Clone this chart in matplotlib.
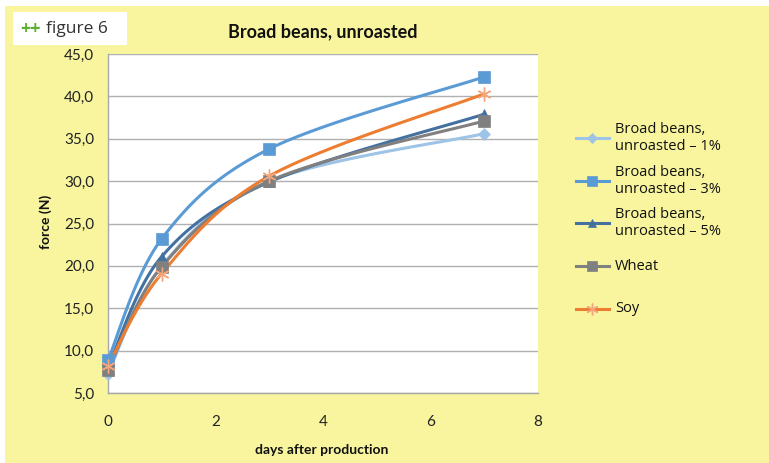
import numpy as np
import matplotlib
matplotlib.use("Agg")
import matplotlib.pyplot as plt
from matplotlib.patches import Rectangle
from matplotlib.lines import Line2D

# --- data -------------------------------------------------------------
days = [0, 1, 3, 7]
bb_1 = [7.3, 20.0, 30.0, 35.6]
bb_3 = [8.9, 23.2, 33.8, 42.3]
bb_5 = [8.0, 21.1, 29.9, 37.9]
wheat = [7.7, 19.9, 30.0, 37.1]
soy = [8.2, 19.1, 30.6, 40.3]

series_labels = ["Broad beans,\nunroasted – 1%", "Broad beans,\nunroasted – 3%",
                 "Broad beans,\nunroasted – 5%", "Wheat", "Soy"]
yticks = [5, 10, 15, 20, 25, 30, 35, 40, 45]
xticks = [0, 2, 4, 6, 8]

plt.rcParams["font.family"] = ["Lato", "DejaVu Sans"]

YELLOW = "#F8F59E"

def smooth(x, y, n=40):
    """Bezier smoothing through the points (Catmull-Rom style)."""
    p = np.column_stack([x, y]).astype(float)
    m = len(p)
    out = []
    for i in range(m - 1):
        p0 = p[i - 1] if i > 0 else p[i]
        p1, p2 = p[i], p[i + 1]
        p3 = p[i + 2] if i + 2 < m else p[i + 1]
        c1 = p1 + (p2 - p0) / 6.0
        c2 = p2 - (p3 - p1) / 6.0
        t = np.linspace(0, 1, n)[:, None]
        seg = ((1 - t) ** 3) * p1 + 3 * ((1 - t) ** 2) * t * c1 + 3 * (1 - t) * t ** 2 * c2 + t ** 3 * p2
        out.append(seg if i == 0 else seg[1:])
    s = np.vstack(out)
    return s[:, 0], s[:, 1]

fig = plt.figure(figsize=(7.69, 4.63), dpi=100)
fig.patch.set_facecolor("white")
# yellow panel behind everything
fig.patches.append(Rectangle((5 / 769, 0), 1, 1 - 6 / 463, transform=fig.transFigure,
                             facecolor=YELLOW, edgecolor="none", zorder=-10))
# label box
fig.patches.append(Rectangle((13 / 769, 1 - 45 / 463), 114 / 769, 33 / 463,
                             transform=fig.transFigure, facecolor="white",
                             edgecolor="none", zorder=-9))
fig.text(20 / 769, 1 - 29 / 463, "++", color="#5DB133", fontsize=13,
         fontweight="bold", va="center", ha="left", family="Open Sans")
fig.text(46 / 769, 1 - 29 / 463, "figure 6", color="#333333", fontsize=12.5,
         va="center", ha="left", family="Open Sans")

ax = fig.add_axes([108 / 769, 1 - 393 / 463, 430 / 769, 339 / 463])
ax.set_facecolor("white")

styles = [
    dict(color="#9DC3E6", marker="D", ms=6.5, mfc="#9DC3E6", mec="#9DC3E6"),
    dict(color="#5B9BD5", marker="s", ms=8, mfc="#5B9BD5", mec="#5B9BD5"),
    dict(color="#44719F", marker="^", ms=7.5, mfc="#44719F", mec="#44719F"),
    dict(color="#808080", marker="s", ms=8, mfc="#808080", mec="#808080"),
    dict(color="#ED7D31", marker=(6, 2, 0), ms=10, mfc="none", mec="#F4A57A", mew=1.0),
]
data = [bb_1, bb_3, bb_5, wheat, soy]

for vals, st in zip(data, styles):
    sx, sy = smooth(days, vals)
    ax.plot(sx, sy, color=st["color"], lw=2.2, solid_capstyle="round", zorder=3)
    ax.plot(days, vals, ls="none", marker=st["marker"], ms=st["ms"], mfc=st["mfc"],
            mec=st["mec"], mew=st.get("mew", 0.5), zorder=4, clip_on=False)

ax.set_xlim(0, 8)
ax.set_ylim(5, 45)
ax.set_yticks(yticks)
ax.set_xticks(xticks)
ax.set_yticklabels([f"{v:.1f}".replace(".", ",") for v in yticks], fontsize=11, color="#222222")
ax.set_xticklabels([str(v) for v in xticks], fontsize=11, color="#222222")
ax.tick_params(length=0, pad=10)
ax.tick_params(axis="x", pad=16)
ax.grid(axis="y", color="#B0B0B0", lw=1.0)
ax.set_axisbelow(True)
for s in ["top", "right"]:
    ax.spines[s].set_visible(False)
for s in ["left", "bottom"]:
    ax.spines[s].set_color("#A8A8A8")
    ax.spines[s].set_linewidth(1.0)

fig.text(323 / 769, 1 - 32 / 463, "Broad beans, unroasted", fontsize=13, fontweight="bold",
         ha="center", va="center", color="#111111")
fig.text(46 / 769, 1 - 222 / 463, "force (N)", fontsize=10, fontweight="bold",
         rotation=90, ha="center", va="center", color="#111111")
fig.text(322 / 769, 1 - 450 / 463, "days after production", fontsize=10, fontweight="bold",
         ha="center", va="center", color="#111111")

# legend, drawn entry by entry
leg_y = [138, 181, 223, 266, 309]
for lab, st, yy in zip(series_labels, styles, leg_y):
    yf = 1 - yy / 463
    fig.add_artist(Line2D([576 / 769, 609 / 769], [yf, yf], color=st["color"], lw=2.2,
                          transform=fig.transFigure))
    fig.add_artist(Line2D([592 / 769], [yf], ls="none", marker=st["marker"], ms=st["ms"] * 0.85,
                          mfc=st["mfc"], mec=st["mec"], mew=st.get("mew", 0.5),
                          transform=fig.transFigure))
    fig.text(615 / 769, yf, lab, fontsize=10.5, ha="left", va="center", color="#111111",
             family=["Open Sans", "DejaVu Sans"], linespacing=1.15)

fig.savefig("out.png", dpi=100, facecolor=fig.get_facecolor())
